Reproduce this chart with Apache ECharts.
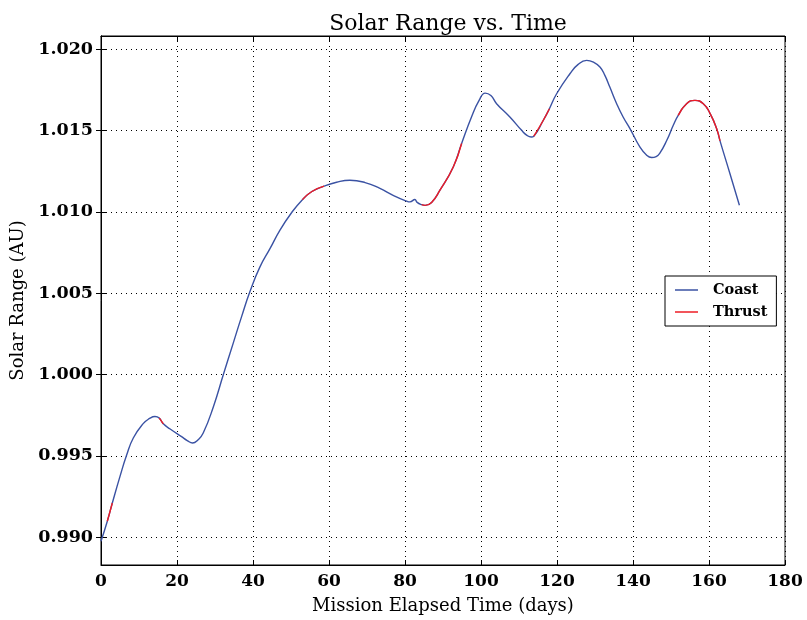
<!DOCTYPE html>
<html><head><meta charset="utf-8">
<script src="https://cdn.jsdelivr.net/npm/echarts@6/dist/echarts.min.js"></script>
<style>html,body{margin:0;padding:0;background:#fff}#c{width:807px;height:620px}</style>
</head><body><div id="c"></div>
<script>
const time = [0, 1.66, 2.98, 5, 6.75, 8.5, 11.1, 12.8, 14.2, 15.35, 16.4, 18.2, 21.2, 22.7, 24.1, 25.5, 26.9, 29.6, 32.2, 34.8, 37.0, 39.2, 41.8, 44.5, 47.1, 50, 53, 55.5, 58.7, 62, 65.5, 69.5, 73.4, 77, 80.4, 81.3, 82.6, 83.2, 84.4, 85.3, 87, 89.2, 92.7, 94.9, 97.5, 99.5, 101.1, 102.6, 104.1, 107.6, 110.7, 112.0, 113.2, 113.9, 116.4, 118, 119.9, 123.4, 125.5, 127.8, 129.6, 131.3, 132.6, 133.9, 135.7, 137.4, 139.2, 141.8, 143.6, 144.9, 146.1, 147.1, 148.9, 150.6, 151.9, 154.1, 156.3, 158.5, 160.3, 162.0, 162.9, 165.5, 168];
const range = [0.98975, 0.99098, 0.99210, 0.99374, 0.99505, 0.99610, 0.99698, 0.99730, 0.99742, 0.99732, 0.99697, 0.99665, 0.99618, 0.99594, 0.99579, 0.99598, 0.99640, 0.99804, 1.00000, 1.00193, 1.00356, 1.00510, 1.00660, 1.00775, 1.00888, 1.00990, 1.01075, 1.01125, 1.01158, 1.01182, 1.01194, 1.01180, 1.01144, 1.01100, 1.01066, 1.01061, 1.01076, 1.01058, 1.01044, 1.01040, 1.01058, 1.01133, 1.01276, 1.01420, 1.01583, 1.01685, 1.01730, 1.01715, 1.01665, 1.01583, 1.01501, 1.01472, 1.01460, 1.01465, 1.01563, 1.01634, 1.01726, 1.01849, 1.01905, 1.01931, 1.01920, 1.01890, 1.01839, 1.01767, 1.01665, 1.01583, 1.01512, 1.01399, 1.01348, 1.01334, 1.01340, 1.01362, 1.01440, 1.01532, 1.01593, 1.01665, 1.01685, 1.01665, 1.01604, 1.01512, 1.01436, 1.01236, 1.01041];
const thrustWindows = [[1.66, 2.98], [15.35, 16.4], [53, 58.7], [84.4, 94.9], [113.9, 118], [151.9, 162.9]];
const xTicks = [0, 20, 40, 60, 80, 100, 120, 140, 160, 180];
const yTicks = [0.990, 0.995, 1.000, 1.005, 1.010, 1.015, 1.020];
const seriesNames = ['Coast', 'Thrust'];

const isThrust = t => thrustWindows.some(w => t >= w[0] - 1e-9 && t <= w[1] + 1e-9);
const coastData = time.map((t, i) => [t, range[i]]);
const thrustData = time.map((t, i) => [t, isThrust(t) ? range[i] : null]);

const FONT = 'DejaVu Serif';
const gridLine = { show: true, lineStyle: { color: '#000', width: 1, type: [1, 4] } };
const chart = echarts.init(document.getElementById('c'), null, { renderer: 'canvas' });
chart.setOption({
  backgroundColor: '#fff',
  animation: false,
  title: {
    text: 'Solar Range vs. Time', left: 443, top: 8, textAlign: 'center',
    textStyle: { fontFamily: FONT, fontWeight: 'normal', fontSize: 22, color: '#000' }
  },
  grid: { left: 101, right: 22, top: 36, bottom: 55, show: true, borderColor: '#000', borderWidth: 1, backgroundColor: 'transparent' },
  legend: {
    data: seriesNames.map(n => ({ name: n, icon: 'rect' })), orient: 'vertical', left: 665, top: 276,
    borderColor: '#000', borderWidth: 1, padding: [6, 9, 6, 10],
    itemWidth: 23, itemHeight: 1.5, itemGap: 6, backgroundColor: '#fff',
    textStyle: { fontFamily: FONT, fontWeight: 'bold', fontSize: 14.5, color: '#000', padding: [0, 0, 0, 10], lineHeight: 16 }
  },
  xAxis: [{
    type: 'value', min: 0, max: 180, interval: 20, position: 'bottom',
    name: 'Mission Elapsed Time (days)', nameLocation: 'middle', nameGap: 32,
    nameTextStyle: { fontFamily: FONT, fontSize: 18, color: '#000' },
    axisLine: { show: true, lineStyle: { color: '#000', width: 1 } },
    axisTick: { show: true, inside: true, length: 5, lineStyle: { color: '#000' } },
    axisLabel: { fontFamily: FONT, fontWeight: 'bold', fontSize: 17, color: '#000', margin: 8 },
    splitLine: gridLine
  }, {
    type: 'value', min: 0, max: 180, interval: 20, position: 'top',
    axisLine: { show: true, lineStyle: { color: '#000' } },
    axisTick: { show: true, inside: true, length: 5, lineStyle: { color: '#000' } },
    axisLabel: { show: false }, splitLine: { show: false }
  }],
  yAxis: [{
    type: 'value', min: 0.98829, max: 1.02081, position: 'left',
    name: 'Solar Range (AU)', nameLocation: 'middle', nameGap: 70,
    nameTextStyle: { fontFamily: FONT, fontSize: 18, color: '#000' },
    axisLine: { show: true, lineStyle: { color: '#000', width: 1 } },
    axisTick: { show: true, inside: true, length: 5, customValues: yTicks, lineStyle: { color: '#000' } },
    axisLabel: { fontFamily: FONT, fontWeight: 'bold', fontSize: 17.5, color: '#000', margin: 8, customValues: yTicks, formatter: v => v.toFixed(3) },
    splitLine: gridLine
  }, {
    type: 'value', min: 0.98829, max: 1.02081, position: 'right',
    axisLine: { show: true, lineStyle: { color: '#000' } },
    axisTick: { show: true, inside: true, length: 5, customValues: yTicks, lineStyle: { color: '#000' } },
    axisLabel: { show: false }, splitLine: { show: false }
  }],
  series: [{
    name: seriesNames[0], type: 'line', data: coastData, symbol: 'none', smooth: 0.5,
    lineStyle: { color: '#3a52a3', width: 1.4 }, itemStyle: { color: '#3a52a3' }, z: 3
  }, {
    name: seriesNames[1], type: 'line', data: thrustData, symbol: 'none', smooth: 0.5, connectNulls: false,
    lineStyle: { color: '#ee1c25', width: 1.4 }, itemStyle: { color: '#ee1c25' }, z: 4
  }]
});
</script></body></html>
